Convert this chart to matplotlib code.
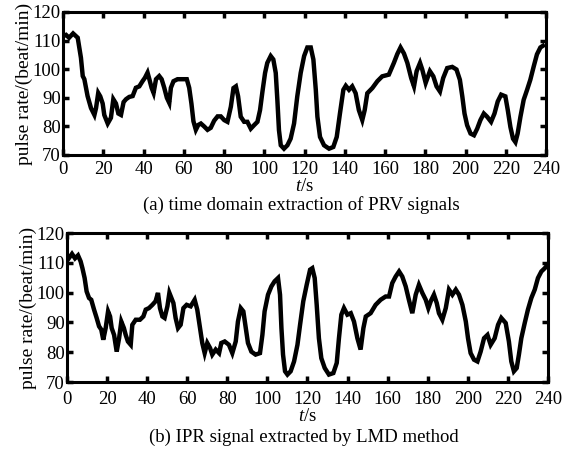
import matplotlib
matplotlib.use("Agg")
import matplotlib.pyplot as plt

plt.rcParams['font.family'] = ['Liberation Serif', 'DejaVu Serif']
plt.rcParams['mathtext.fontset'] = 'custom'
plt.rcParams['mathtext.rm'] = 'Liberation Serif'
plt.rcParams['mathtext.it'] = 'Liberation Serif:italic'

# (a) time domain extraction of PRV signals
t_a = [0, 1.5, 3, 5, 7.3, 8.9, 9.8, 10.6, 11.4, 12.2, 13.9, 15.6, 16.4, 17.5, 18.5,
       19.7, 20.5, 22.2, 23.8, 25, 26.3, 27.5, 28.8, 30.1, 31.3, 32.9, 34.6, 36.2,
       37.9, 39.5, 40.7, 42, 42.9, 44, 45, 46.2, 47.8, 49, 50.3, 51.6, 52.8, 53.6,
       54.9, 56.9, 59.4, 61.5, 62.7, 63.8, 64.8, 66, 67.2, 68.5, 70.1, 71.8, 73.4,
       75.1, 76.8, 78.4, 80.1, 81.7, 83.4, 84.7, 85.9, 87, 88.3, 90, 91.6, 93.3,
       94.9, 96.6, 97.9, 99.1, 100.4, 101.5, 103.2, 104.5, 105.7, 106.5, 107.3,
       108.2, 109.8, 111.5, 113.1, 114.8, 116.4, 118.1, 119.8, 121.4, 123.1, 124.4,
       125.6, 126.4, 127.7, 129.7, 132.2, 134.3, 136, 137.6, 139.3, 140.5, 142.1,
       143.7, 145.4, 147, 148.7, 149.9, 151.2, 153.7, 156.2, 158.6, 161.9, 164.4,
       166.1, 167.7, 169.4, 171.1, 173, 174.4, 175.7, 177.4, 178.5, 180.2, 182.3,
       184, 185.6, 187.3, 188.9, 190.9, 193.4, 195.5, 197.2, 198.4, 199.5, 200.8,
       202.5, 204.2, 205.8, 207.4, 209.1, 210.7, 212.7, 214.4, 216, 217.7, 219.8,
       221, 222.3, 223.6, 224.8, 225.9, 227.3, 228.9, 230.6, 232.2, 233.9, 235.5,
       237.2, 238.5]
prv_a = [111.5, 112, 111, 112.5, 111, 104, 97.6, 96.5, 93.5, 90.6, 86.4, 84, 86.4,
         91.7, 90.5, 88, 84, 81, 83, 89.5, 88, 84.5, 84, 88.5, 89.5, 90.3, 90.6,
         93.5, 94, 95.8, 97, 98.8, 96.5, 93.5, 91.7, 96.5, 97.6, 96.5, 93.5, 90,
         88.2, 93.5, 95.8, 96.5, 96.5, 96.5, 93.5, 88, 81.8, 78.8, 80.5, 81, 80,
         78.8, 79.5, 82, 83.5, 83.5, 82.2, 81.6, 86.9, 93.4, 94, 90.5, 83.4, 81.6,
         81.6, 79.2, 80.4, 81.6, 85.7, 92.2, 98.7, 102.2, 104.6, 103.4, 98.7, 89.3,
         78.7, 73.4, 72.2, 73.4, 75.7, 81, 90.5, 98.7, 104.6, 107.6, 107.6, 103.4,
         92.8, 83.4, 76.3, 73.4, 72.2, 72.8, 76.3, 84.5, 92.8, 94.2, 92.8, 94, 91.6,
         85.7, 82.2, 85.7, 91.6, 93.4, 95.8, 97.5, 98.1, 102.2, 105.3, 107.6, 105.5,
         102.2, 96.9, 94, 99.3, 102.2, 99.9, 95.2, 99.3, 97.5, 94, 92.2, 96.9,
         100.4, 100.8, 99.9, 96.3, 90.5, 84.5, 80.4, 77.5, 76.9, 79.2, 82.2, 84.5,
         83.4, 81.6, 84.5, 88.7, 91.1, 90.5, 85.7, 79.8, 75.7, 74.5, 77.5, 83.4,
         89.3, 92.8, 96.3, 101, 105.2, 107.6, 108.2]

# (b) IPR signal extracted by LMD method
t_b = [0, 1, 2.5, 4, 5.5, 6.8, 7.7, 8.8, 9.8, 11, 12.1, 13.5, 14.8, 16, 17.1, 18.1,
       19.3, 20.5, 21.5, 22.3, 23.5, 24.8, 26, 27.1, 28.4, 29.3, 30.4, 31.8, 32.6,
       34.3, 36.4, 38.1, 39.3, 40.9, 42.6, 44.2, 45.4, 46.4, 47.6, 48.7, 50.1, 51.1,
       52.1, 53.1, 54.2, 55.4, 56.7, 58.1, 59.7, 61.7, 63.7, 65, 66.4, 67.5, 68.7,
       70, 71.4, 72.5, 74.2, 75.9, 77, 78.7, 80.8, 82.5, 84.2, 85.3, 86.7, 88,
       89.2, 90.3, 92, 94.1, 96.3, 97.5, 98.6, 100.3, 102, 103.6, 105.3, 106.3,
       107, 107.8, 108.8, 110, 111.6, 113.3, 115, 116.3, 117.9, 119.6, 121.3, 122.4,
       123.6, 124.6, 125.7, 126.9, 128.6, 130.7, 132.9, 134.6, 135.7, 136.9, 138.2,
       139.9, 141.6, 143.2, 144.9, 146.5, 147.9, 149.1, 151.5, 154, 156.5, 159,
       160.7, 162.3, 164, 165.7, 167.3, 169, 170.6, 172.3, 174, 175.6, 177.3, 179,
       180.3, 181.5, 183.1, 184.5, 185.6, 187.3, 189, 190.6, 192.3, 194, 195.6,
       197.3, 199, 200.1, 201.4, 203.1, 204.8, 206.4, 208.1, 209.8, 211.4, 213.4,
       215.1, 216.7, 218.9, 220.5, 221.7, 223, 224.4, 225.5, 226.7, 228.4, 230,
       231.7, 233.4, 235, 236.7, 238.4, 239.7]
ipr_b = [112.5, 111.6, 113, 111.5, 112.5, 110.5, 108.2, 104.9, 100.4, 98.2, 97.6,
         94.3, 91.5, 88.7, 87.6, 84.2, 88.1, 93.7, 92, 88.1, 85.8, 80.2, 84.7, 90.3,
         88.1, 85.8, 83.6, 82.5, 89.2, 90.9, 90.9, 92, 94.3, 94.8, 95.9, 97.1, 99.9,
         94.8, 92, 91.5, 95.4, 99.9, 98.2, 96.5, 91.5, 88.1, 89.2, 94.8, 95.9, 95.4,
         97.6, 94.3, 88.1, 83.1, 79.7, 83.1, 81.4, 79.2, 80.9, 79.7, 83.1, 83.6,
         82.5, 79.7, 83.6, 90.3, 94.8, 93.7, 88.1, 83.1, 80.2, 79.2, 79.7, 85.8,
         93.7, 99.3, 102.1, 103.8, 104.9, 99.3, 88.1, 79.2, 73.6, 72.5, 73.6, 76.9,
         82.5, 89.2, 97.1, 102.6, 107.7, 108.2, 104.9, 95.9, 84.7, 78, 74.7, 72.5,
         73, 76.4, 84.7, 92.6, 94.8, 92.6, 93.1, 90.3, 84.7, 80.9, 88.1, 92, 93.1,
         95.9, 97.6, 98.7, 98.7, 103.2, 105.4, 107.1, 105.4, 102.1, 97.6, 93.1, 99.3,
         102.6, 99.9, 97.6, 94.8, 97.1, 99.3, 96.5, 93.1, 90.9, 94.8, 101, 99.3, 101,
         99.3, 95.9, 90.3, 84.7, 79.7, 77.5, 76.9, 80.2, 84.7, 85.8, 82.5, 84.7,
         89.2, 91.5, 89.8, 83.6, 76.9, 73.6, 74.7, 79.2, 84.7, 89.8, 94.3, 98.2, 101,
         104.9, 107.1, 108.2, 109.3]

x_ticks = list(range(0, 241, 20))
y_ticks = [70, 80, 90, 100, 110, 120]

fig = plt.figure(figsize=(5.75, 4.58), dpi=100)
ax1 = fig.add_axes([0.1096, 0.6616, 0.840, 0.3122])
ax2 = fig.add_axes([0.1165, 0.1659, 0.8365, 0.3253])

panels = [(ax1, t_a, prv_a, 4.5, 0.553, "(a) time domain extraction of PRV signals", 0),
          (ax2, t_b, ipr_b, 6.5, 0.046, "(b) IPR signal extracted by LMD method", 0)]

for ax, t, v, xpad, cap_y, caption, lp in panels:
    ax.plot(t, v, color='black', lw=3.2, solid_joinstyle='miter')
    ax.set_xlim(0, 240)
    ax.set_ylim(70, 120)
    ax.set_xticks(x_ticks)
    ax.set_yticks(y_ticks)
    ax.tick_params(direction='in', top=True, right=True, length=4, width=2.5,
                   labelsize=13.5, pad=1.5)
    ax.tick_params(axis='x', pad=xpad)
    for s in ax.spines.values():
        s.set_linewidth(2.2)
    ax.set_ylabel('pulse rate/(beat/min)', fontsize=14, labelpad=0)
    ax.set_xlabel('$t$/s', fontsize=13.5, labelpad=lp)
    pos = ax.get_position()
    fig.text((pos.x0 + pos.x1) / 2 - 0.006, cap_y, caption, fontsize=13.5,
             ha='center', va='center')

fig.savefig('out.png', dpi=100)
